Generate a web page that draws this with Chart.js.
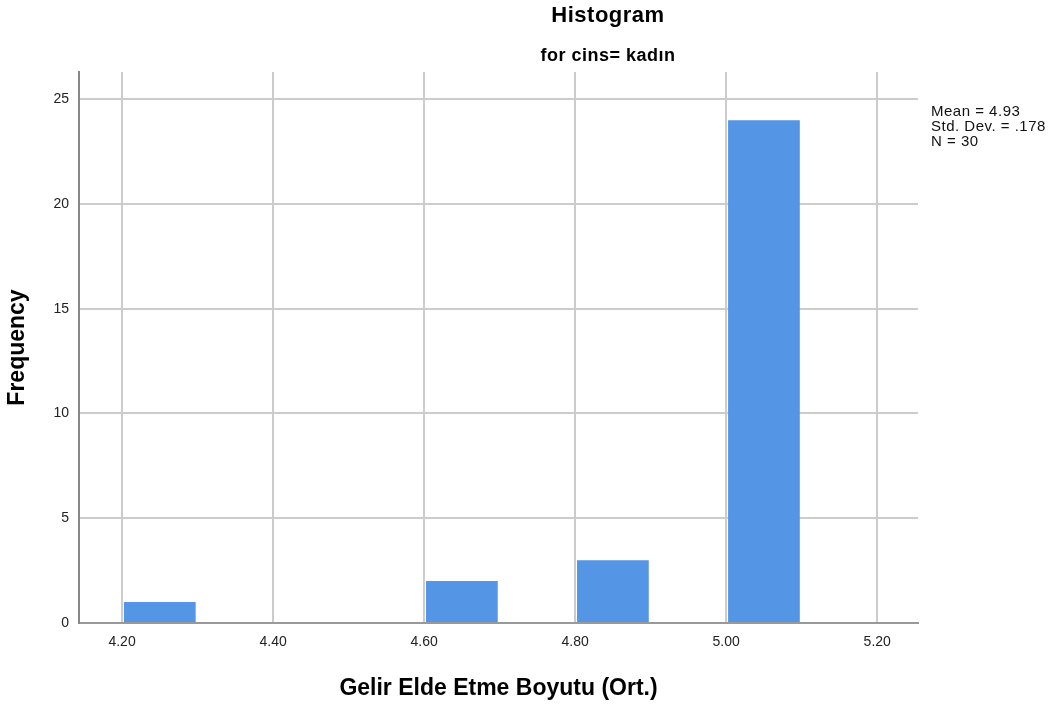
<!DOCTYPE html>
<html>
<head>
<meta charset="utf-8">
<script src="https://cdn.jsdelivr.net/npm/chart.js@4"></script>
<style>
    html, body { margin: 0; padding: 0; background: #fff; }
    #wrap { width: 1054px; height: 704px; }
</style>
</head>
<body>
<div id="wrap"><canvas id="histChart" width="1054" height="704"></canvas></div>
<script>
const binCenters = [4.25, 4.35, 4.45, 4.55, 4.65, 4.75, 4.85, 4.95, 5.05];
const frequencies = [1, 0, 0, 0, 2, 0, 3, 0, 24];
const xTicks = [4.20, 4.40, 4.60, 4.80, 5.00, 5.20];
const yTicks = [0, 5, 10, 15, 20, 25];
const statsLines = ['Mean = 4.93', 'Std. Dev. = .178', 'N = 30'];
const chartTitle = 'Histogram';
const chartSubtitle = 'for cins= kadın';

const FONT = '"Liberation Sans", Arial, sans-serif';

const headerPlugin = {
    id: 'header',
    afterDraw(chart) {
        const ctx = chart.ctx;
        const area = chart.chartArea;
        ctx.save();
        ctx.fillStyle = '#000';
        ctx.textAlign = 'center';
        ctx.textBaseline = 'middle';
        ctx.letterSpacing = '0.5px';
        ctx.font = 'bold 22px ' + FONT;
        ctx.fillText(chartTitle, 608, 16);
        ctx.font = 'bold 18px ' + FONT;
        ctx.fillText(chartSubtitle, 608, 56);

        // stats box to the right of the plot
        ctx.textAlign = 'left';
        ctx.textBaseline = 'alphabetic';
        ctx.font = '15px ' + FONT;
        ctx.fillStyle = '#111';
        statsLines.forEach((line, i) => {
            ctx.fillText(line, area.right + 13, 116 + i * 15);
        });
        ctx.restore();
    }
};

const data = binCenters.map((x, i) => ({ x: x, y: frequencies[i] }));

new Chart(document.getElementById('histChart'), {
    type: 'bar',
    data: {
        datasets: [{
            data: data,
            backgroundColor: '#5595e5',
            borderWidth: 0,
            barPercentage: 0.95,
            categoryPercentage: 1
        }]
    },
    options: {
        responsive: false,
        animation: false,
        layout: { padding: { top: 72, right: 136, bottom: 0, left: 0 } },
        plugins: {
            legend: { display: false },
            tooltip: { enabled: false }
        },
        scales: {
            x: {
                type: 'linear',
                offset: false,
                min: 4.143,
                max: 5.254,
                afterBuildTicks: axis => { axis.ticks = xTicks.map(v => ({ value: v })); },
                afterFit: axis => { axis.height = 81; },
                ticks: {
                    color: '#222',
                    font: { family: FONT, size: 14 },
                    padding: 11,
                    maxRotation: 0,
                    callback: v => Number(v).toFixed(2)
                },
                grid: { color: '#cccccc', lineWidth: 2, drawTicks: false, offset: false },
                border: { color: '#999999', width: 2 },
                title: {
                    display: true,
                    text: 'Gelir Elde Etme Boyutu (Ort.)',
                    color: '#000',
                    font: { family: FONT, size: 23, weight: 'bold' },
                    padding: { top: 4, bottom: 2 }
                }
            },
            y: {
                min: 0,
                max: 26.3,
                afterBuildTicks: axis => { axis.ticks = yTicks.map(v => ({ value: v })); },
                afterFit: axis => { axis.width = 79; },
                ticks: {
                    color: '#222',
                    font: { family: FONT, size: 14 },
                    padding: 10
                },
                grid: { color: '#cccccc', lineWidth: 2, drawTicks: false },
                border: { color: '#888888', width: 2 },
                title: {
                    display: true,
                    text: 'Frequency',
                    color: '#000',
                    font: { family: FONT, size: 23, weight: 'bold' },
                    padding: { top: 4, bottom: 4 }
                }
            }
        }
    },
    plugins: [headerPlugin]
});
</script>
</body>
</html>
